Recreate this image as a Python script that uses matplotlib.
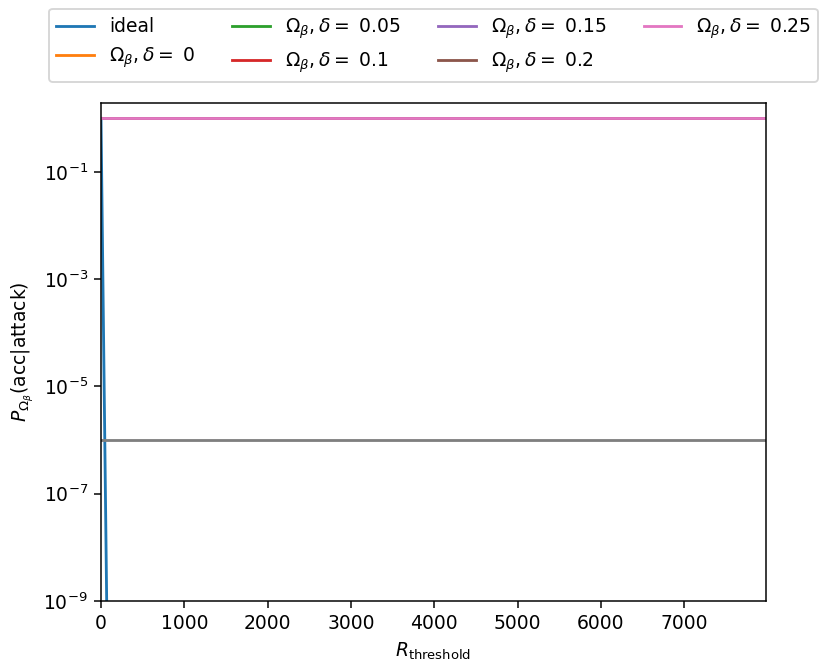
import matplotlib
matplotlib.use("Agg")
import matplotlib.pyplot as plt
from matplotlib.ticker import NullLocator, FixedLocator

# data
r_span = [0, 7980]
deltas = [0, 0.05, 0.1, 0.15, 0.2, 0.25]
p_delta = {d: [1.0, 1.0] for d in deltas}
ideal_r = [0, 10, 20, 30, 40, 50, 60, 70, 80]
ideal_p = [1.0, 4.8e-2, 2.3e-3, 1.1e-4, 5.2e-6, 2.5e-7, 1.2e-8, 5.7e-10, 2.7e-11]
floor_p = [1e-6, 1e-6]

dpi = 135
fig = plt.figure(figsize=(831 / dpi, 671 / dpi), dpi=dpi)
ax = fig.add_axes([101 / 831, 70 / 671, 665 / 831, 498 / 671])

ax.plot(ideal_r, ideal_p, label="ideal")
for d in deltas:
    ax.plot(r_span, p_delta[d], label=r"$\Omega_\beta, \delta = $ " + str(d))
ax.plot(r_span, floor_p, color="C7")

ax.set_yscale("log")
ax.set_ylim(1e-9, 1.93)
ax.set_xlim(0, 7980)
ax.yaxis.set_major_locator(FixedLocator([1e-9, 1e-7, 1e-5, 1e-3, 1e-1]))
ax.yaxis.set_minor_locator(NullLocator())

ax.set_xlabel(r"$R_{\mathrm{threshold}}$")
ax.set_ylabel(r"$P_{\Omega_\beta}$(acc|attack)")

ax.legend(loc="lower center", bbox_to_anchor=(0.5, 1.042), ncol=4,
          borderaxespad=0)

fig.savefig("out.png", dpi=dpi)
